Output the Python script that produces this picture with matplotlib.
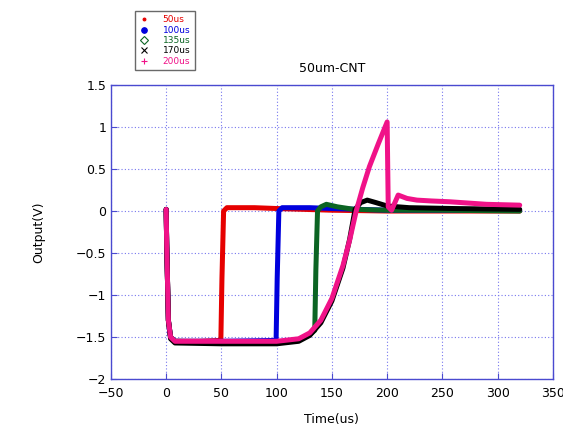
import matplotlib
matplotlib.use('Agg')
import matplotlib.pyplot as plt
from matplotlib.lines import Line2D

# series (time in us, output in V)
t_50 = [0, 0.5, 2, 4, 8, 30, 49.5, 50.5, 52, 55, 80, 100, 150, 200, 250, 320]
v_50 = [0.02, -0.4, -1.3, -1.5, -1.55, -1.55, -1.54, -0.8, 0.0, 0.04, 0.04, 0.03, 0.01, 0.0, 0.0, 0.0]

t_100 = [0, 0.5, 2, 4, 8, 50, 99.5, 100.5, 102, 105, 130, 150, 200, 250, 320]
v_100 = [0.02, -0.4, -1.3, -1.5, -1.55, -1.55, -1.54, -0.8, 0.0, 0.04, 0.04, 0.03, 0.01, 0.01, 0.01]

t_135 = [0, 0.5, 2, 4, 8, 50, 100, 120, 130, 134.5, 135.5, 137, 140, 145, 155, 170, 200, 250, 320]
v_135 = [0.02, -0.4, -1.3, -1.5, -1.55, -1.56, -1.56, -1.53, -1.47, -1.42, -0.7, 0.0, 0.05, 0.08, 0.05, 0.02, 0.01, 0.01, 0.0]

t_170 = [0, 0.5, 2, 4, 8, 50, 100, 120, 130, 140, 150, 160, 166, 171, 176, 182, 190, 200, 220, 260, 320]
v_170 = [0.02, -0.4, -1.3, -1.52, -1.57, -1.58, -1.58, -1.55, -1.48, -1.33, -1.07, -0.68, -0.34, 0.02, 0.1, 0.13, 0.1, 0.06, 0.04, 0.03, 0.02]

t_200 = [0, 0.5, 2, 4, 8, 50, 100, 120, 130, 140, 150, 160, 166, 172, 178, 184, 192, 200, 201, 204, 210, 218, 227, 240, 257, 290, 320]
v_200 = [0.02, -0.4, -1.3, -1.5, -1.55, -1.55, -1.55, -1.52, -1.45, -1.3, -1.04, -0.65, -0.35, 0.0, 0.28, 0.53, 0.8, 1.06, 0.05, 0.01, 0.19, 0.15, 0.13, 0.12, 0.11, 0.08, 0.07]

labels = ['50us', '100us', '135us', '170us', '200us']
colors = ['#e60000', '#0000dd', '#0b6423', '#000000', '#f01288']
markers = ['.', 'o', 'D', 'x', '+']
x_ticks = [-50, 0, 50, 100, 150, 200, 250, 300, 350]
y_ticks = [-2, -1.5, -1, -0.5, 0, 0.5, 1, 1.5]

series = [(t_50, v_50), (t_100, v_100), (t_135, v_135), (t_170, v_170), (t_200, v_200)]

frame = '#4a4ad0'
fig = plt.figure(figsize=(5.63, 4.25), dpi=100)
ax = fig.add_axes([0.197, 0.108, 0.785, 0.692])

for (t, v), c in zip(series, colors):
    ax.plot(t, v, color=c, linewidth=3.6, solid_joinstyle='round', solid_capstyle='round')

ax.set_xlim(-50, 350)
ax.set_ylim(-2, 1.5)
ax.set_xticks(x_ticks)
ax.set_yticks(y_ticks)
ax.set_xticklabels([str(x).replace('-', '\u2212') for x in x_ticks])
ax.set_yticklabels([('%g' % y).replace('-', '\u2212') for y in y_ticks])
ax.grid(True, color='#7777ee', linestyle=(0, (1, 2)), linewidth=0.8)
ax.set_axisbelow(True)
for s in ax.spines.values():
    s.set_color(frame)
    s.set_linewidth(1.0)
ax.tick_params(direction='in', color=frame, length=4, labelsize=9, top=False, right=False)
ax.tick_params(axis='x', pad=6)

ax.set_title('50um-CNT', fontsize=9, pad=9)
ax.set_xlabel('Time(us)', fontsize=9, labelpad=9)
ax.set_ylabel('Output(V)', fontsize=9, labelpad=22)

handles = [Line2D([], [], linestyle='none', marker=m, color=c, markersize=4,
                  markerfacecolor=('none' if m == 'D' else c), markeredgewidth=0.8)
           for m, c in zip(markers, colors)]
leg = fig.legend(handles, labels, loc='upper left', bbox_to_anchor=(0.231, 0.985),
                 fontsize=6.5, frameon=True, fancybox=False, handlelength=1.2,
                 handletextpad=1.4, borderpad=0.5, labelspacing=0.15)
leg.get_frame().set_edgecolor('#444444')
leg.get_frame().set_linewidth(1.0)
for txt, c in zip(leg.get_texts(), colors):
    txt.set_color(c)

fig.savefig('out.png', dpi=100)
